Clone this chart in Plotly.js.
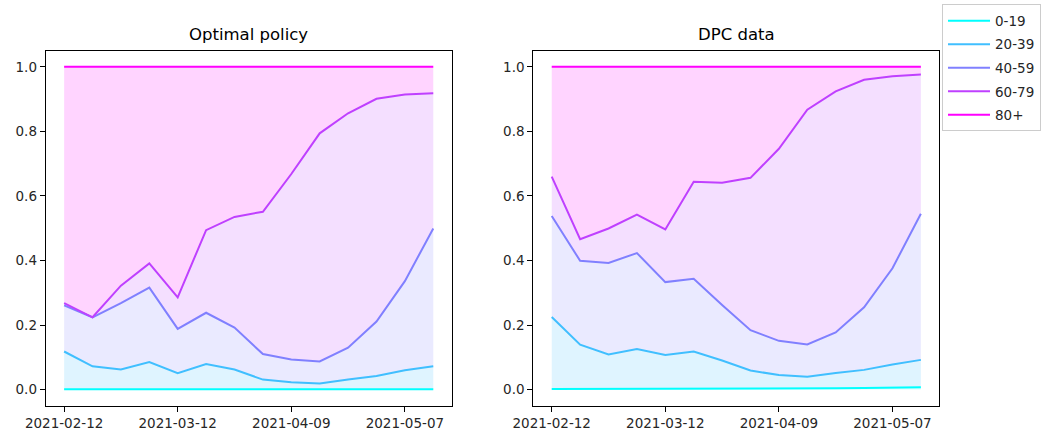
<!DOCTYPE html>
<html>
<head>
<meta charset="utf-8">
<script src="https://cdn.plot.ly/plotly-3.0.1.min.js"></script>
<style>html,body{margin:0;padding:0;background:#fff;}#chart{width:1041px;height:437px;}</style>
</head>
<body>
<div id="chart"></div>
<script>
// Weekly dates
const dates = ["2021-02-12","2021-02-19","2021-02-26","2021-03-05","2021-03-12","2021-03-19","2021-03-26","2021-04-02","2021-04-09","2021-04-16","2021-04-23","2021-04-30","2021-05-07","2021-05-14"];
const groups = ["0-19","20-39","40-59","60-79","80+"];
const tickDates = ["2021-02-12","2021-03-12","2021-04-09","2021-05-07"];
const yTicks = [0.0,0.2,0.4,0.6,0.8,1.0];

// Cumulative shares - Optimal policy
const opt_0_19  = [0.001,0.001,0.001,0.001,0.001,0.001,0.001,0.001,0.001,0.001,0.001,0.001,0.001,0.001];
const opt_20_39 = [0.118,0.072,0.062,0.085,0.051,0.079,0.062,0.031,0.023,0.019,0.031,0.042,0.060,0.072];
const opt_40_59 = [0.261,0.224,0.268,0.316,0.188,0.238,0.192,0.110,0.093,0.087,0.130,0.211,0.336,0.499];
const opt_60_79 = [0.268,0.224,0.322,0.391,0.286,0.494,0.535,0.551,0.668,0.794,0.856,0.901,0.914,0.918];
const opt_80p   = [1,1,1,1,1,1,1,1,1,1,1,1,1,1];

// Cumulative shares - DPC data
const dpc_0_19  = [0.002,0.002,0.002,0.002,0.002,0.003,0.003,0.003,0.003,0.004,0.004,0.005,0.006,0.007];
const dpc_20_39 = [0.225,0.139,0.109,0.126,0.107,0.118,0.090,0.059,0.045,0.040,0.051,0.061,0.078,0.092];
const dpc_40_59 = [0.538,0.399,0.392,0.423,0.333,0.343,0.262,0.184,0.151,0.140,0.177,0.255,0.376,0.545];
const dpc_60_79 = [0.660,0.466,0.499,0.542,0.496,0.644,0.641,0.656,0.746,0.867,0.924,0.960,0.971,0.976];
const dpc_80p   = [1,1,1,1,1,1,1,1,1,1,1,1,1,1];

const colors = [[0,255,255],[64,191,255],[128,128,255],[191,64,255],[255,0,255]];
const rgb = c => `rgb(${c[0]},${c[1]},${c[2]})`;
const rgba = (c,a) => `rgba(${c[0]},${c[1]},${c[2]},${a})`;

const optSeries = [opt_0_19,opt_20_39,opt_40_59,opt_60_79,opt_80p];
const dpcSeries = [dpc_0_19,dpc_20_39,dpc_40_59,dpc_60_79,dpc_80p];

const traces = [];
function addPanel(series, xa, ya, legend) {
  series.forEach((s,i) => {
    traces.push({x: dates, y: s, xaxis: xa, yaxis: ya, type:'scatter', mode:'lines',
      line:{width:0, color:'rgba(0,0,0,0)'}, fill: i===0 ? 'tozeroy' : 'tonexty',
      fillcolor: rgba(colors[i], 0.17), showlegend:false, hoverinfo:'skip'});
  });
  series.forEach((s,i) => {
    traces.push({x: dates, y: s, xaxis: xa, yaxis: ya, type:'scatter', mode:'lines',
      name: groups[i], legendgroup: 'g'+i, line:{width:2, color: rgb(colors[i])}, showlegend: legend});
  });
}
addPanel(optSeries,'x','y',true);
addPanel(dpcSeries,'x2','y2',false);

const font = {family:'DejaVu Sans', size:13.5, color:'#262626'};
const xr = ['2021-02-07 11:00','2021-05-18 13:00'];
const axCommon = {showgrid:false, zeroline:false, showline:true, mirror:true, linecolor:'#000', linewidth:1,
  ticks:'outside', ticklen:5, tickcolor:'#000', tickfont:font};
const xax = d => Object.assign({}, axCommon, {type:'date', domain:d, range:xr, tickvals:tickDates, ticktext:tickDates});
const yax = (anchor) => Object.assign({}, axCommon, {domain:[0.0716,0.884], range:[-0.05,1.05], tickvals:yTicks, tickformat:'.1f', anchor:anchor});

const layout = {
  width:1041, height:437, margin:{l:0,r:0,t:0,b:0}, paper_bgcolor:'#fff', plot_bgcolor:'#fff',
  font: font,
  xaxis: Object.assign(xax([0.0439,0.4339]), {anchor:'y'}),
  yaxis: yax('x'),
  xaxis2: Object.assign(xax([0.5123,0.9023]), {anchor:'y2'}),
  yaxis2: yax('x2'),
  showlegend:true,
  legend:{x:0.905, y:0.99, xanchor:'left', yanchor:'top', bordercolor:'#cccccc', borderwidth:1, bgcolor:'#fff',
    font:{family:'DejaVu Sans', size:13.5, color:'#262626'}, tracegroupgap:3, itemwidth:42},
  annotations:[
    {text:'Optimal policy', xref:'paper', yref:'paper', x:(0.0439+0.4339)/2, y:0.884, xanchor:'center', yanchor:'bottom', yshift:5, showarrow:false, font:{family:'DejaVu Sans', size:16.5, color:'#000'}},
    {text:'DPC data', xref:'paper', yref:'paper', x:(0.5123+0.9023)/2, y:0.884, xanchor:'center', yanchor:'bottom', yshift:5, showarrow:false, font:{family:'DejaVu Sans', size:16.5, color:'#000'}}
  ]
};
Plotly.newPlot('chart', traces, layout, {staticPlot:true, displayModeBar:false});
</script>
</body>
</html>
